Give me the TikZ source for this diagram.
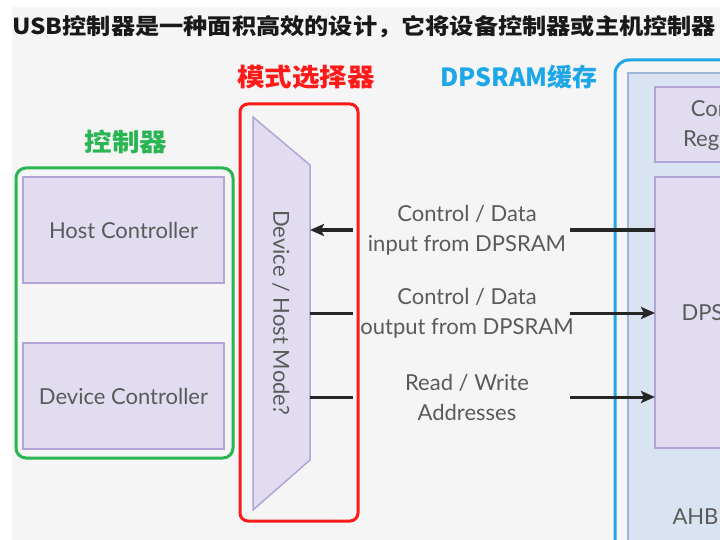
\documentclass[tikz,border=0pt]{standalone}
\usepackage{fontspec}
\setmainfont{Lato}
\newfontfamily\cjk{Noto Sans CJK SC}
\newfontfamily\cjkw{Noto Sans CJK SC}[FakeStretch=1.1]
\usetikzlibrary{arrows.meta}
\definecolor{bggray}{HTML}{F5F5F5}
\definecolor{txtgray}{HTML}{5A5A5A}
\definecolor{lavfill}{HTML}{E1DCEF}
\definecolor{lavline}{HTML}{B2A4D6}
\definecolor{grn}{HTML}{2AB553}
\definecolor{rd}{HTML}{FF1A1A}
\definecolor{blu}{HTML}{1EA7E8}
\definecolor{ahbfill}{HTML}{DAE3F1}
\definecolor{ahbline}{HTML}{9DB5D6}
\begin{document}
\begin{tikzpicture}[x=1pt,y=-1pt,
  lbl/.style={font=\fontsize{22}{30}\selectfont, text=txtgray, align=center},
  blk/.style={draw=lavline, fill=lavfill, line width=1.5pt, inner sep=0pt},
  grp/.style={line width=3pt, rounded corners=10pt},
  title/.style={font=\cjkw\bfseries\fontsize{25}{25}\selectfont},
  conn/.style={line width=3pt, draw=black!85},
  arr/.style={conn, -{Stealth[length=14pt,width=12pt,inset=3pt]}}]
\useasboundingbox (0,0) rectangle (720,540);
\clip (0,0) rectangle (720,540);
\fill[bggray] (12,7) rectangle (720,540);
% title
\node[anchor=west, inner sep=0pt, font=\cjkw\bfseries\fontsize{22}{22}\selectfont, text=black!90] (head) at (12,27) {USB控制器是一种面积高效的设计，它将设备控制器或主机控制器};
% controller group
\draw[grp, draw=grn] (16,168) rectangle (233,458);
\node[title, text=grn] (lctrl) at (126,142) {控制器};
\node[blk, minimum width=201, minimum height=106, lbl] (host) at (123.5,230) {Host Controller};
\node[blk, minimum width=201, minimum height=106, lbl] (dev) at (123.5,396) {Device Controller};
% mode selector
\draw[grp, draw=rd, rounded corners=8pt] (240,104) rectangle (358,521);
\node[title, text=rd] (lmux) at (306,77) {模式选择器};
\draw[draw=lavline, fill=lavfill, line width=1.5pt] (253,117) -- (310,165) -- (310,460) -- (253,510) -- cycle;
\coordinate (muxa) at (310,230);
\coordinate (muxb) at (310,313);
\coordinate (muxc) at (310,397);
\node[lbl, rotate=-90] (muxt) at (281,313) {Device / Host Mode?};
% DPSRAM
\node[font=\cjk\bfseries\fontsize{25}{25}\selectfont, text=blu] (lram) at (519,77) {DPSRAM缓存};
\draw[grp, draw=blu, rounded corners=14pt] (615,60) rectangle (800,600);
\draw[draw=ahbline, fill=ahbfill, line width=1.5pt] (628,73) rectangle (790,590);
\draw[blk] (655,87) rectangle (780,162);
\node[lbl] (creg) at (727,125) {Control\\Registers};
\draw[blk] (655,177) rectangle (780,448);
\node[lbl] (dps) at (727,313) {DPSRAM};
\node[lbl, anchor=west] (ahb) at (669,517) {AHBLite};
\coordinate (ra) at (655,230);
\coordinate (rb) at (655,313);
\coordinate (rc) at (655,397);
% signal labels
\node[lbl] (la) at (467,230) {Control / Data\\input from DPSRAM};
\node[lbl] (lb) at (467,313) {Control / Data\\output from DPSRAM};
\node[lbl] (lc) at (467,397) {Read / Write\\Addresses};
\coordinate (ga1) at (353,230); \coordinate (ga2) at (570,230);
\coordinate (gb1) at (353,313); \coordinate (gb2) at (570,313);
\coordinate (gc1) at (353,397); \coordinate (gc2) at (570,397);
\draw[conn] (ra) -- (ga2);
\draw[arr] (ga1) -- (muxa);
\draw[conn] (muxb) -- (gb1);
\draw[arr] (gb2) -- (rb);
\draw[conn] (muxc) -- (gc1);
\draw[arr] (gc2) -- (rc);
\end{tikzpicture}
\end{document}
